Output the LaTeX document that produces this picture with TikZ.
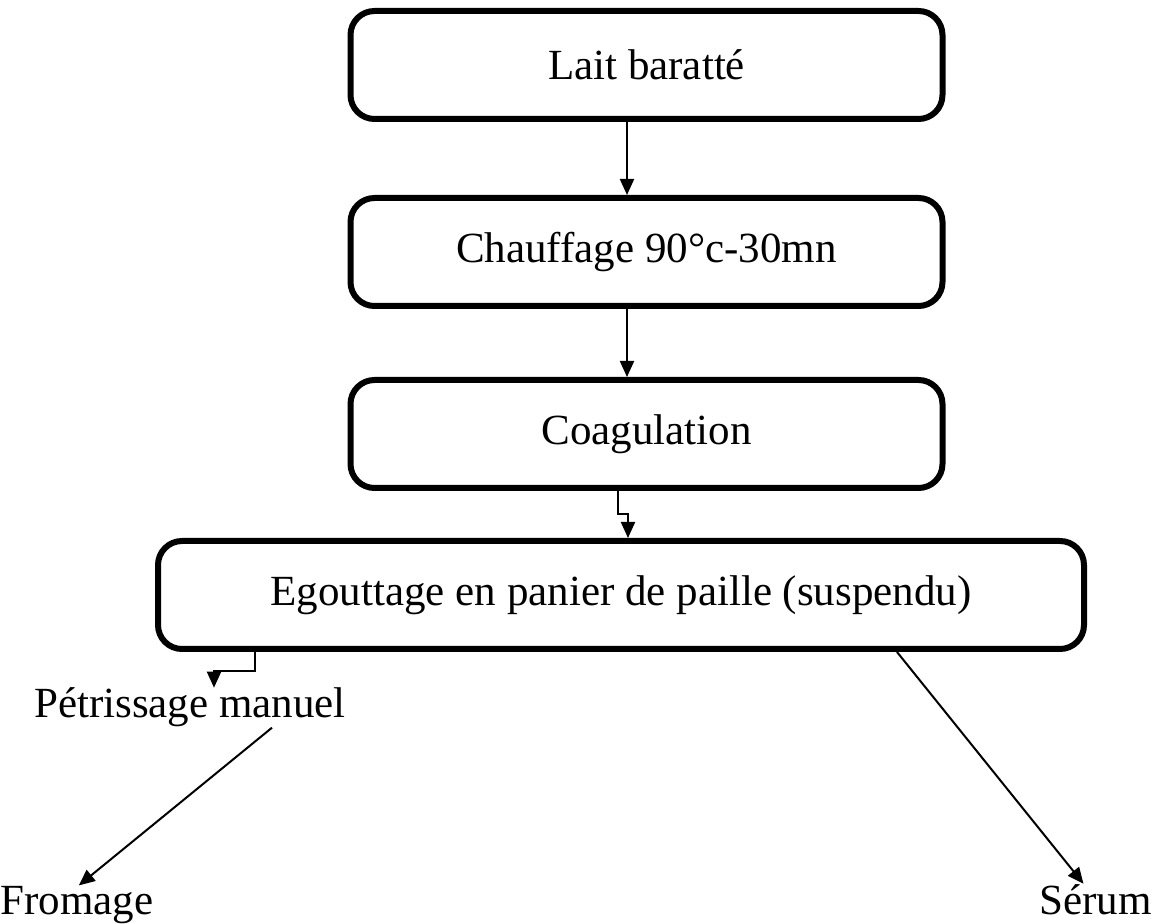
\documentclass[tikz,border=0pt]{standalone}
\usepackage{fontspec}
\setmainfont{Liberation Serif}
\usetikzlibrary{arrows.meta,calc,positioning}

\tikzset{
  etape/.style={draw,line width=3pt,rounded corners=12pt,minimum height=54pt,
    inner sep=0pt,align=center},
  libre/.style={inner sep=0pt},
  flux/.style={line width=1pt,-{Triangle[width=7pt,length=8pt]}}
}

\begin{document}
\begin{tikzpicture}[x=.5pt,y=-.5pt,font=\fontsize{21.5}{26}\selectfont]
    \useasboundingbox (0,0) rectangle (1157,924);
    % etapes du procede
    \node[etape,minimum width=296pt] (lait) at (646.5,65) {Lait baratté};
    \node[etape,minimum width=296pt] (chauf) at (646.5,252) {Chauffage 90°c-30mn};
    \node[etape,minimum width=296pt] (coag) at (646.5,434) {Coagulation};
    \node[etape,minimum width=463pt] (egout) at (621,595) {Egouttage en panier de paille (suspendu)};
    % produits
    \node[libre,anchor=base] (petri) at (190,718) {Pétrissage manuel};
    \node[libre,anchor=base west] (froma) at (0,914) {Fromage};
    \node[libre,anchor=base east] (serum) at (1152,914) {Sérum};
    % fleches
    \draw[flux] ($(lait.south)+(-19.5,0)$) -- ($(chauf.north)+(-19.5,0)$);
    \draw[flux] ($(chauf.south)+(-19.5,0)$) -- ($(coag.north)+(-19.5,0)$);
    \draw[flux] ($(coag.south)+(-28.5,0)$) -- ++(0,23) -| ($(egout.north)+(7,0)$);
    \draw[flux] ($(egout.south)+(-366,0)$) -- ++(0,19) -| ($(petri.north)+(24,0)$);
    \draw[flux] ($(petri.south)+(82,0)$) -- ($(froma.north)+(2,0)$);
    \draw[flux] ($(egout.south)+(276,0)$) -- ($(serum.north)+(-12,0)$);
\end{tikzpicture}
\end{document}
